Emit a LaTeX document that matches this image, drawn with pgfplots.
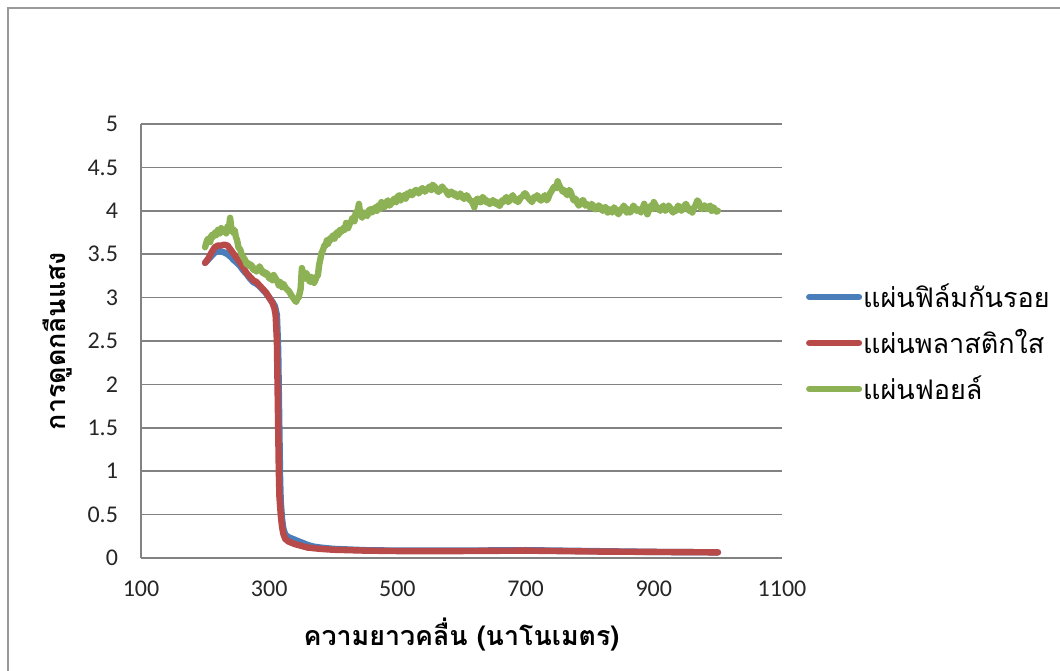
\documentclass[border=0pt]{standalone}
\usepackage{fontspec}
\setmainfont{Carlito}
\newfontfamily\thai[Script=Thai]{Loma}
\usepackage{pgfplots}
\pgfplotsset{compat=1.18}
\definecolor{sBlue}{RGB}{74,126,187}
\definecolor{sRed}{RGB}{185,74,74}
\definecolor{sGreen}{RGB}{141,178,85}
\definecolor{gridc}{RGB}{130,130,130}
\begin{document}
\begin{tikzpicture}
\useasboundingbox (-70.5pt,-56pt) rectangle (459.5pt,279pt);
\draw[gray!80, line width=0.8pt] (-66.5pt,-70pt) -- (-66.5pt,275pt) -- (470pt,275pt);
\begin{axis}[
  at={(0,0)}, anchor=south west,
  scale only axis, width=320.5pt, height=217pt,
  xmin=100, xmax=1100, ymin=0, ymax=5,
  xtick={100,300,500,700,900,1100},
  ytick={0,0.5,1,1.5,2,2.5,3,3.5,4,4.5,5},
  yticklabels={0,0.5,1,1.5,2,2.5,3,3.5,4,4.5,5},
  xticklabels={100,300,500,700,900,1100},
  /pgf/number format/assume math mode=true,
  tick label style={font=\fontsize{12}{14}\selectfont, text=black!85},
  yticklabel style={xshift=-8pt},
  xticklabel style={yshift=-8pt},
  major tick length=0pt,
  axis x line*=bottom, axis y line*=left,
  axis line style={draw=gridc, line width=0.8pt, -},
  ymajorgrids, grid style={draw=gridc, line width=0.8pt},
  xlabel={\thai\bfseries ความยาวคลื่น (นาโนเมตร)},
  ylabel={\thai\bfseries การดูดกลืนแสง},
  label style={font=\fontsize{13.4}{16}\selectfont},
  xlabel style={at={(axis description cs:0.5,-0.1774)}, anchor=center},
  ylabel style={at={(axis description cs:-0.1295,0.5)}, anchor=center},
  legend style={draw=none, fill=none, at={(axis description cs:1.037,0.4954)}, anchor=west,
    inner sep=0pt, row sep=8.5pt, font=\thai\fontsize{13.5}{15}\selectfont,
    nodes={inner sep=0.5pt}},
  legend cell align=left,
  legend image code/.code={\draw[#1, line cap=round, line width=3pt] (0pt,0pt) -- (25pt,0pt);},
  every axis plot/.append style={line width=3.2pt, line join=round, line cap=round},
]
\addplot[sBlue] coordinates {
(200,3.40)(205,3.44)(210,3.48)(215,3.52)(220,3.54)(225,3.53)(230,3.52)(235,3.50)(240,3.47)(245,3.43)
(250,3.40)(255,3.36)(260,3.31)(265,3.27)(270,3.22)(275,3.18)(280,3.16)(285,3.13)(290,3.09)(295,3.05)
(300,3.00)(305,2.95)(309,2.90)(312,2.80)(314,2.40)(315,1.90)(316,1.40)(317,0.90)(318,0.65)(320,0.45)
(322,0.34)(325,0.27)(330,0.24)(340,0.21)(350,0.18)(360,0.15)(370,0.13)(380,0.12)(400,0.105)(450,0.09)
(500,0.085)(600,0.085)(700,0.09)(800,0.08)(900,0.07)(1000,0.065)};
\addlegendentry{แผ่นฟิล์มกันรอย}
\addplot[sRed] coordinates {
(200,3.40)(205,3.45)(210,3.52)(215,3.58)(220,3.60)(225,3.60)(230,3.61)(235,3.60)(240,3.55)(245,3.50)
(250,3.45)(255,3.40)(260,3.34)(265,3.28)(270,3.24)(275,3.20)(280,3.18)(285,3.14)(290,3.10)(295,3.06)
(300,3.00)(305,2.94)(308,2.88)(310,2.80)(312,2.50)(313,2.00)(314,1.50)(315,1.00)(316,0.70)(318,0.50)
(320,0.36)(322,0.28)(325,0.22)(330,0.19)(340,0.16)(350,0.14)(360,0.12)(380,0.105)(400,0.095)(450,0.085)
(500,0.08)(600,0.08)(700,0.085)(800,0.075)(900,0.07)(1000,0.065)};
\addlegendentry{แผ่นพลาสติกใส}
\addplot[sGreen] coordinates {
(200,3.58)(203,3.66)(205,3.68)(208,3.64)(210,3.72)(213,3.70)(215,3.75)(218,3.72)(220,3.78)(223,3.74)
(225,3.80)(228,3.76)(230,3.78)(233,3.74)(235,3.82)(237,3.78)(239,3.92)(241,3.80)(243,3.75)(246,3.78)
(248,3.70)(250,3.66)(252,3.58)(255,3.55)(257,3.50)(260,3.46)(262,3.44)(265,3.38)(267,3.40)(270,3.36)
(272,3.38)(275,3.32)(277,3.34)(280,3.30)(282,3.32)(285,3.36)(287,3.33)(290,3.28)(292,3.30)(295,3.26)
(297,3.28)(300,3.22)(302,3.24)(305,3.20)(307,3.26)(310,3.22)(312,3.20)(315,3.14)(317,3.18)(320,3.12)
(322,3.16)(325,3.12)(327,3.10)(330,3.08)(332,3.06)(335,3.02)(337,3.00)(340,2.97)(342,2.95)(344,2.99)
(346,3.00)(349,3.10)(351,3.34)(353,3.28)(356,3.22)(358,3.28)(360,3.25)(362,3.20)(364,3.18)(366,3.24)
(368,3.22)(370,3.17)(372,3.20)(374,3.24)(376,3.26)(378,3.38)(380,3.45)(382,3.52)(384,3.55)(386,3.60)
(388,3.60)(390,3.66)(392,3.62)(394,3.68)(396,3.66)(398,3.70)(400,3.72)(402,3.68)(405,3.75)(408,3.72)
(410,3.78)(413,3.76)(415,3.80)(418,3.78)(420,3.86)(423,3.80)(425,3.84)(428,3.88)(430,3.92)(433,3.88)
(435,3.98)(438,4.00)(440,4.08)(442,3.96)(445,3.92)(448,3.98)(450,3.96)(453,3.94)(455,4.00)(458,4.02)
(460,3.98)(463,4.00)(465,4.04)(468,4.00)(470,4.06)(473,4.02)(475,4.10)(478,4.06)(480,4.04)(483,4.10)
(485,4.12)(488,4.06)(490,4.08)(493,4.12)(495,4.14)(498,4.10)(500,4.16)(503,4.18)(505,4.12)(508,4.16)
(510,4.18)(513,4.14)(515,4.20)(518,4.18)(520,4.22)(523,4.18)(525,4.20)(528,4.24)(530,4.24)(533,4.20)
(535,4.22)(538,4.26)(540,4.26)(543,4.22)(545,4.24)(548,4.26)(550,4.28)(553,4.24)(555,4.30)(558,4.28)
(560,4.26)(563,4.22)(565,4.22)(568,4.26)(570,4.28)(573,4.24)(575,4.24)(578,4.20)(580,4.18)(583,4.22)
(585,4.22)(588,4.18)(590,4.20)(593,4.16)(595,4.16)(598,4.20)(600,4.18)(603,4.14)(605,4.14)(608,4.18)
(610,4.16)(613,4.12)(615,4.12)(618,4.08)(620,4.04)(622,4.12)(625,4.14)(628,4.10)(630,4.10)(633,4.16)
(635,4.14)(638,4.10)(640,4.12)(643,4.08)(645,4.08)(648,4.12)(650,4.12)(653,4.08)(655,4.10)(658,4.06)
(660,4.06)(663,4.12)(665,4.10)(668,4.14)(670,4.16)(673,4.10)(675,4.12)(678,4.16)(680,4.18)(683,4.12)
(685,4.14)(688,4.10)(690,4.12)(693,4.16)(695,4.16)(698,4.20)(700,4.20)(703,4.16)(705,4.14)(708,4.12)
(710,4.10)(713,4.16)(715,4.14)(718,4.18)(720,4.16)(723,4.12)(725,4.12)(728,4.16)(730,4.18)(733,4.12)
(735,4.14)(738,4.20)(740,4.22)(743,4.26)(745,4.28)(748,4.26)(750,4.34)(752,4.30)(755,4.26)(758,4.22)
(760,4.24)(763,4.20)(765,4.18)(768,4.24)(770,4.22)(773,4.16)(775,4.12)(778,4.14)(780,4.10)(783,4.06)
(785,4.08)(788,4.12)(790,4.12)(793,4.06)(795,4.08)(798,4.06)(800,4.04)(803,4.08)(805,4.06)(808,4.02)
(810,4.02)(813,4.06)(815,4.06)(818,4.02)(820,4.00)(823,4.04)(825,4.04)(828,3.98)(830,4.02)(833,4.00)
(835,3.98)(838,4.04)(840,4.02)(843,3.98)(845,3.96)(848,4.02)(850,4.00)(853,4.06)(855,4.04)(858,3.98)
(860,4.02)(863,3.98)(865,4.00)(868,4.06)(870,4.04)(873,4.00)(875,4.02)(878,4.00)(880,3.98)(883,4.04)
(885,4.08)(888,4.00)(890,3.96)(893,4.02)(895,4.06)(898,4.02)(900,4.10)(903,4.06)(905,4.04)(908,4.02)
(910,4.00)(913,4.04)(915,4.06)(918,4.00)(920,4.02)(923,4.06)(925,4.04)(928,4.00)(930,3.98)(933,4.02)
(935,4.00)(938,4.06)(940,4.04)(943,4.00)(945,4.02)(948,4.06)(950,4.08)(953,4.04)(955,4.00)(958,4.02)
(960,3.98)(963,4.04)(965,4.06)(968,4.12)(970,4.10)(973,4.04)(975,4.02)(978,4.06)(980,4.06)(983,4.02)
(985,4.04)(988,4.06)(990,4.00)(993,4.04)(995,4.02)(998,3.99)(1000,4.00)};
\addlegendentry{แผ่นฟอยล์}
\end{axis}
\end{tikzpicture}
\end{document}
